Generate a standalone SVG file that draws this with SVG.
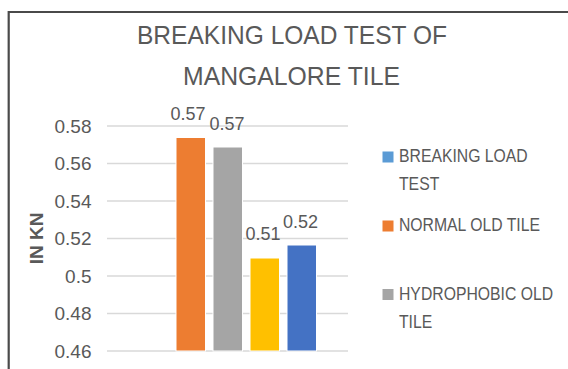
<svg xmlns="http://www.w3.org/2000/svg" width="568" height="369" viewBox="0 0 568 369">
<style>
text{font-family:"Liberation Sans",Arial,sans-serif;fill:#595959}
.title{font-size:26px;text-anchor:middle}
.tick{font-size:19px;text-anchor:end}
.val{font-size:18px;text-anchor:middle}
.leg{font-size:19px}
.grid{stroke:#d9d9d9;stroke-width:1.5}
.bar{stroke:#ffffff;stroke-width:1}
</style>
<rect width="568" height="369" fill="#ffffff"/>
<g id="frame" fill="none" stroke="#4a4a4a" stroke-width="2.2">
<line x1="8.5" y1="12" x2="568" y2="12"/>
<line x1="8.7" y1="11" x2="8.7" y2="369"/>
</g>
<g id="title">
<text class="title" x="292" y="43.5" textLength="310" lengthAdjust="spacingAndGlyphs">BREAKING LOAD TEST OF</text>
<text class="title" x="291.5" y="85" textLength="217" lengthAdjust="spacingAndGlyphs">MANGALORE TILE</text>
</g>
<g id="grid">
<line class="grid" x1="107" y1="126" x2="348" y2="126"/>
<line class="grid" x1="107" y1="163.5" x2="348" y2="163.5"/>
<line class="grid" x1="107" y1="201" x2="348" y2="201"/>
<line class="grid" x1="107" y1="238.5" x2="348" y2="238.5"/>
<line class="grid" x1="107" y1="276" x2="348" y2="276"/>
<line class="grid" x1="107" y1="313.5" x2="348" y2="313.5"/>
<line class="grid" x1="107" y1="351" x2="348" y2="351"/>
</g>
<g id="y-axis">
<text class="tick" x="91.5" y="132.5">0.58</text>
<text class="tick" x="91.5" y="170">0.56</text>
<text class="tick" x="91.5" y="207.5">0.54</text>
<text class="tick" x="91.5" y="245">0.52</text>
<text class="tick" x="91.5" y="282.5">0.5</text>
<text class="tick" x="91.5" y="320">0.48</text>
<text class="tick" x="91.5" y="357.5">0.46</text>
<text x="0" y="0" transform="translate(42.5,238.5) rotate(-90)" style="font-size:19px;font-weight:bold;text-anchor:middle">IN KN</text>
</g>
<g id="bar-normal">
<rect class="bar" x="176" y="137.5" width="29.5" height="213.5" fill="#ED7D31"/>
<text class="val" x="188" y="120">0.57</text>
</g>
<g id="bar-hydrophobic">
<rect class="bar" x="213" y="147" width="29.5" height="204" fill="#A5A5A5"/>
<text class="val" x="227" y="130">0.57</text>
</g>
<g id="bar-yellow">
<rect class="bar" x="250" y="258" width="29.5" height="93" fill="#FFC000"/>
<text class="val" x="263" y="240">0.51</text>
</g>
<g id="bar-blue">
<rect class="bar" x="287" y="245" width="29.5" height="106" fill="#4472C4"/>
<text class="val" x="300.5" y="228">0.52</text>
</g>
<g id="legend-breaking">
<rect x="382.5" y="151.5" width="11" height="11" fill="#5B9BD5"/>
<g transform="translate(399,0) scale(0.83,1)">
<text class="leg" x="0" y="162.5">BREAKING LOAD</text>
<text class="leg" x="0" y="190">TEST</text>
</g>
</g>
<g id="legend-normal">
<rect x="382.5" y="220.5" width="11" height="11" fill="#ED7D31"/>
<g transform="translate(399,0) scale(0.83,1)">
<text class="leg" x="0" y="231.5">NORMAL OLD TILE</text>
</g>
</g>
<g id="legend-hydrophobic">
<rect x="382.5" y="289" width="11" height="11" fill="#A5A5A5"/>
<g transform="translate(399,0) scale(0.83,1)">
<text class="leg" x="0" y="300">HYDROPHOBIC OLD</text>
<text class="leg" x="0" y="328">TILE</text>
</g>
</g>
</svg>
